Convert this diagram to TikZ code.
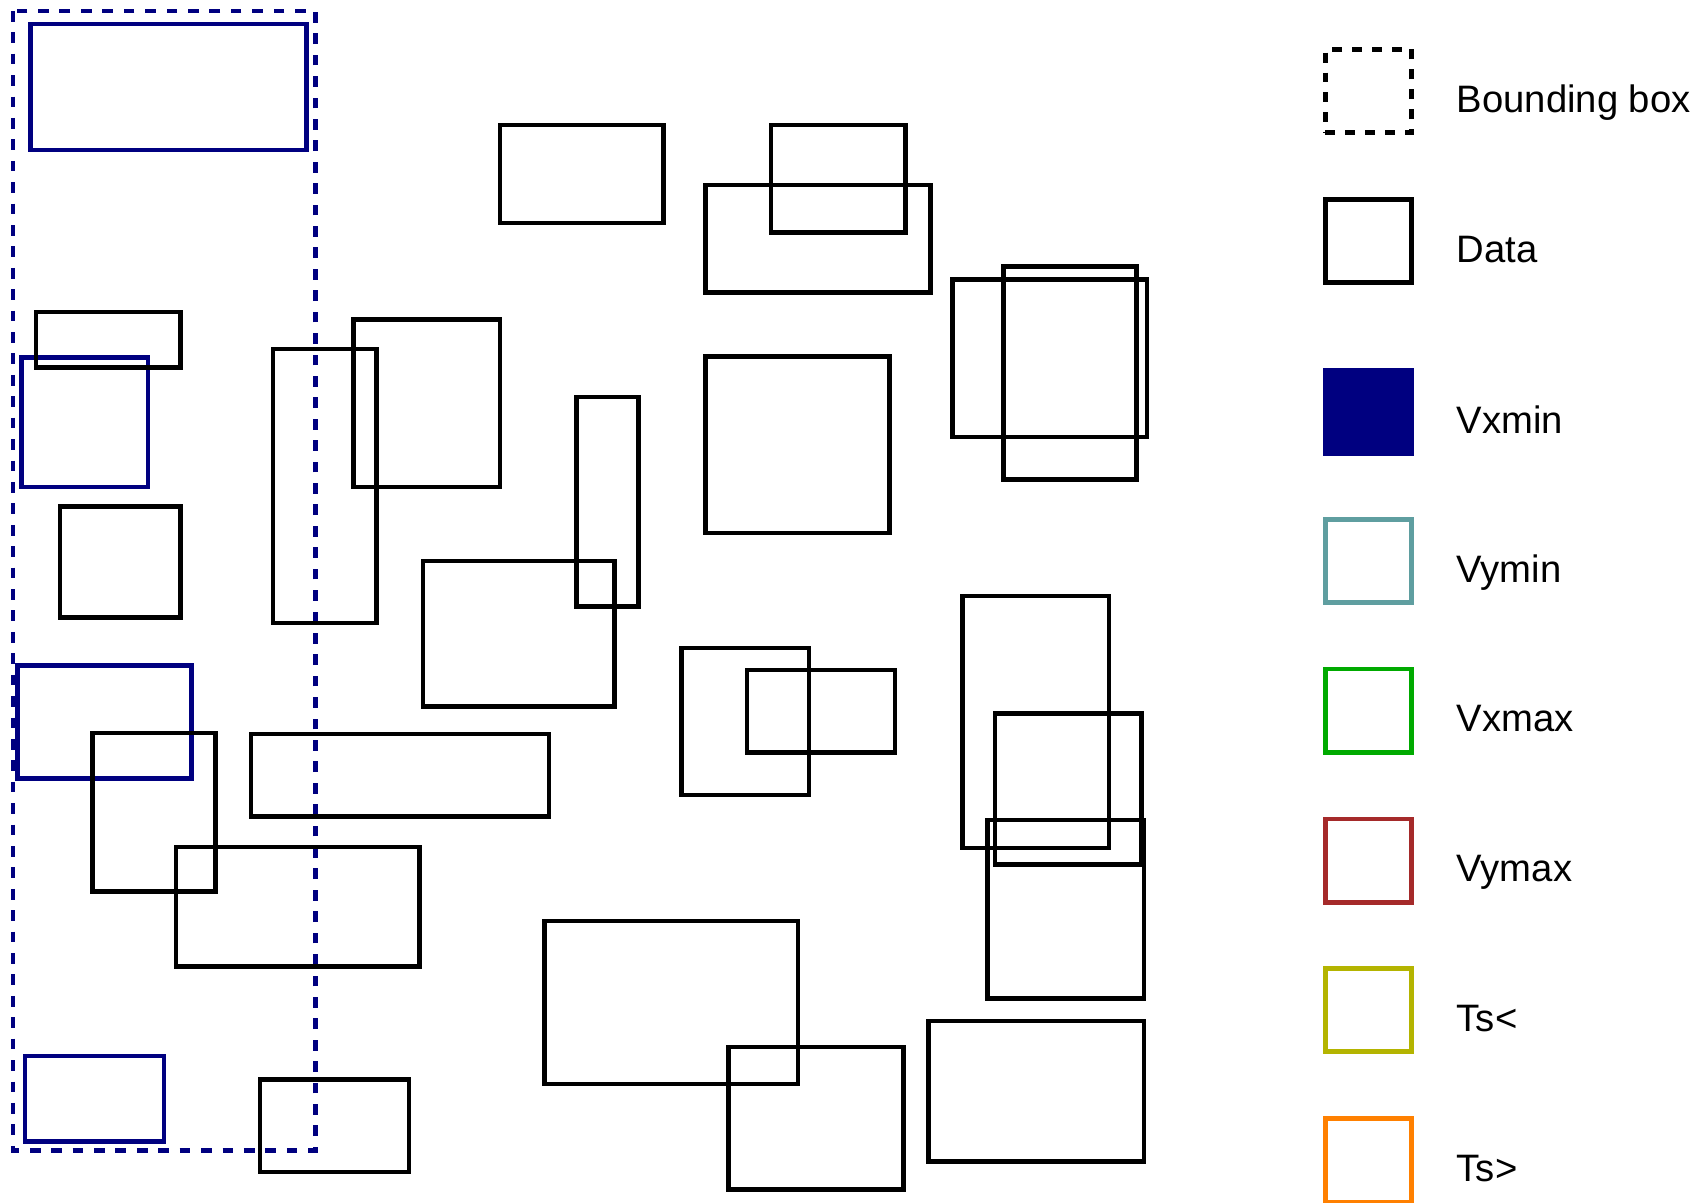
\documentclass[tikz,border=0pt]{standalone}
\usepackage{fontspec}
\setmainfont{Liberation Sans}
\usepackage{tikz}
\usetikzlibrary{calc}

\definecolor{vxmincol}{RGB}{0,0,128}
\definecolor{vymincol}{RGB}{95,158,160}
\definecolor{vxmaxcol}{RGB}{0,170,0}
\definecolor{vymaxcol}{RGB}{165,42,42}
\definecolor{tslesscol}{RGB}{180,180,0}
\definecolor{tsmorecol}{RGB}{255,128,0}

\begin{document}
\begin{tikzpicture}[
    x=0.01cm, y=-0.01cm,
    every node/.style={inner sep=0pt},
    datarect/.style={draw=black, line width=1.2pt},
    minrect/.style={draw=vxmincol, line width=1.2pt},
    bboxrect/.style={draw=vxmincol, line width=1.2pt, dash pattern=on 2.8pt off 2.8pt},
    swatch/.style={minimum width=0.79cm, minimum height=0.765cm, line width=1.2pt},
    bboxkey/.style={swatch, draw=black, dash pattern=on 2.6pt off 2.6pt},
    datakey/.style={swatch, draw=black},
    vxminkey/.style={swatch, draw=vxmincol, fill=vxmincol},
    vyminkey/.style={swatch, draw=vymincol},
    vxmaxkey/.style={swatch, draw=vxmaxcol},
    vymaxkey/.style={swatch, draw=vymaxcol},
    tslesskey/.style={swatch, draw=tslesscol},
    tsmorekey/.style={swatch, draw=tsmorecol},
    legtext/.style={anchor=base west, font=\fontsize{10}{12}\selectfont}
]
\useasboundingbox (0,0) rectangle (1568,1106);

% Bounding box of the selection
\draw[bboxrect] (12,10) rectangle (290,1058);

% Selected rectangles (Vxmin)
\foreach \xa/\ya/\xb/\yb in {28/22/282/138, 20/329/136/448, 16/612/176/716, 23/971/151/1050}
    \draw[minrect] (\xa,\ya) rectangle (\xb,\yb);

% Data rectangles
\foreach \xa/\ya/\xb/\yb in {
    33/287/166/338, 55/466/166/568, 251/321/346/573, 325/294/460/448,
    85/674/198/820, 231/675/505/751, 162/779/386/889, 239/993/376/1078,
    460/115/610/205, 709/115/833/214, 649/170/856/269, 530/365/587/558,
    389/516/565/650, 649/328/818/490, 876/257/1055/402, 923/245/1045/441,
    627/596/744/731, 687/616/823/692, 885/548/1020/780, 915/656/1050/795,
    908/754/1052/918, 501/847/734/997, 670/963/831/1094, 854/939/1052/1068}
    \draw[datarect] (\xa,\ya) rectangle (\xb,\yb);

% Legend
\foreach \y/\name/\sty/\lab in {
    83.6/bbox/bboxkey/Bounding box,
    221.7/data/datakey/Data,
    378.9/vxmin/vxminkey/Vxmin,
    516/vymin/vyminkey/Vymin,
    653.5/vxmax/vxmaxkey/Vxmax,
    791.5/vymax/vymaxkey/Vymax,
    929/tsless/tslesskey/Ts<,
    1067/tsmore/tsmorekey/Ts>}
{
    \node[\sty] (key\name) at (1258.5,\y) {};
    \node[legtext] (lab\name) at ($(key\name.center)+(80.5,19.5)$) {\lab};
}

\end{tikzpicture}
\end{document}
